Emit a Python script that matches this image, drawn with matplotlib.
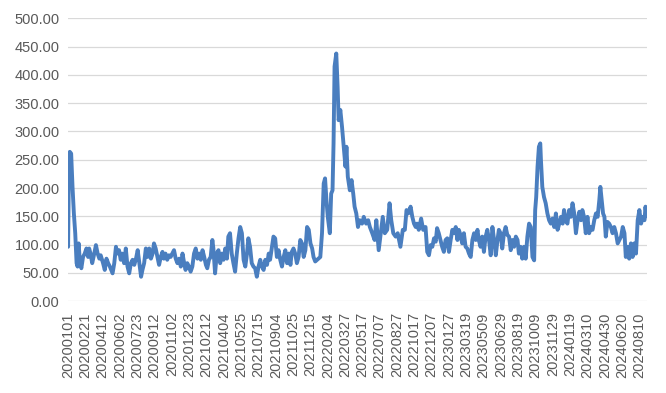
# Daily index line chart, 2020-01-01 .. 2024-08-31

import pandas as pd
import matplotlib
matplotlib.use("Agg")
import matplotlib.pyplot as plt

start_date = "2020-01-01"
end_date = "2024-08-31"
tick_step = 51

# days since start_date
day_offsets = [
    0, 2, 5, 9, 13, 17, 21, 25, 28, 31, 35, 39, 44, 49, 54, 59, 62, 66, 71, 76,
    82, 87, 92, 96, 103, 108, 113, 118, 123, 131, 136, 141, 145, 150, 155, 159,
    165, 170, 175, 180, 185, 190, 195, 200, 205, 210, 215, 219, 224, 229, 234,
    239, 244, 249, 253, 258, 263, 268, 273, 278, 282, 287, 292, 297, 302, 307,
    312, 317, 322, 327, 332, 337, 342, 346, 351, 356, 361, 366, 371, 376, 381,
    386, 391, 396, 401, 406, 410, 415, 420, 425, 428, 433, 438, 443, 448, 453,
    458, 463, 468, 472, 477, 482, 487, 492, 497, 502, 507, 512, 517, 522, 527,
    531, 536, 541, 546, 551, 556, 561, 566, 571, 576, 581, 586, 591, 595, 600,
    605, 610, 615, 620, 625, 630, 635, 640, 645, 650, 655, 659, 664, 669, 674,
    679, 684, 689, 694, 699, 704, 709, 714, 719, 723, 728,
    743, 748, 753, 757, 761, 765, 771, 775, 779, 782, 785, 790, 794, 797, 802,
    807, 812, 817, 820, 824, 830, 835, 840, 844, 849, 854, 859, 866, 871, 878,
    884, 889, 896, 903, 908, 915, 920, 927, 933, 940, 947, 952, 958, 965, 971,
    979, 986, 992, 997, 1002, 1009, 1014, 1019, 1024, 1028, 1033, 1040, 1046,
    1053, 1058, 1063, 1068, 1073, 1078, 1083, 1087, 1092, 1097, 1102, 1107,
    1112, 1117, 1122, 1127, 1132, 1137, 1142, 1147, 1151, 1156, 1161, 1166,
    1171, 1176, 1181, 1186, 1191, 1196, 1201, 1206, 1210, 1215, 1220, 1225,
    1230, 1235, 1240, 1245, 1250, 1255, 1260, 1265, 1269, 1274, 1279, 1284,
    1289, 1294, 1299, 1304, 1309, 1314, 1319, 1324, 1328, 1333, 1338, 1343,
    1348, 1353, 1358, 1363, 1368, 1373, 1376, 1379, 1383, 1387, 1391, 1393,
    1397, 1402, 1407, 1412, 1417, 1422, 1427, 1432, 1437, 1442, 1447, 1452,
    1457, 1461, 1466, 1471, 1476, 1481, 1486, 1491, 1496, 1501, 1506, 1511,
    1515, 1520, 1525, 1530, 1535, 1540, 1545, 1550, 1555, 1560, 1565, 1568,
    1572, 1576, 1580, 1584, 1589, 1594, 1599, 1604, 1609, 1614, 1619, 1624,
    1629, 1634, 1639, 1643, 1648, 1653, 1658, 1663, 1668, 1673, 1678, 1683,
    1688, 1693, 1698, 1701, 1704,
]

values = [
    96, 211, 264, 261, 202, 155, 120, 67, 61, 102, 67, 58, 78, 84, 93, 78, 93,
    84, 67, 81, 99, 84, 75, 81, 67, 55, 75, 67, 61, 49, 67, 96, 84, 90, 73, 84,
    67, 93, 61, 49, 67, 73, 64, 75, 90, 67, 43, 55, 67, 93, 78, 93, 75, 84,
    102, 93, 78, 64, 78, 87, 75, 84, 73, 81, 78, 84, 90, 75, 67, 75, 61, 84,
    67, 55, 67, 61, 52, 61, 84, 93, 75, 84, 73, 90, 78, 64, 58, 73, 78, 108,
    93, 49, 84, 90, 67, 84, 73, 93, 75, 114, 120, 84, 67, 52, 84, 111, 131,
    120, 73, 61, 84, 111, 96, 67, 61, 58, 43, 61, 73, 61, 55, 73, 64, 84, 73,
    93, 114, 111, 78, 90, 73, 61, 78, 90, 67, 84, 64, 87, 93, 84, 67, 78, 108,
    102, 78, 90, 131, 126, 102, 93, 78, 70,
    78, 120, 208, 217, 179, 149, 120, 190, 196, 279, 415, 438, 379, 320, 338,
    308, 273, 238, 273, 220, 196, 214, 190, 167, 155, 131, 143, 137, 149, 137,
    143, 131, 120, 108, 143, 90, 114, 149, 120, 126, 173, 143, 120, 114, 120,
    96, 126, 126, 161, 155, 167, 149, 137, 131, 137, 126, 146, 126, 131, 87,
    81, 99, 96, 111, 105, 129, 120, 108, 96, 87, 108, 111, 87, 108, 126, 120,
    131, 108, 126, 117, 102, 120, 96, 93, 84, 78, 108, 120, 108, 126, 108, 96,
    114, 87, 114, 126, 108, 81, 131, 108, 81, 108, 126, 120, 93, 120, 131,
    117, 114, 90, 108, 96, 114, 108, 84, 96, 75, 96, 75, 114, 137, 131, 78,
    72, 161, 184, 238, 273, 279, 249, 202, 184, 173, 155, 143, 137, 146, 131,
    155, 126, 137, 149, 137, 161, 143, 137, 161, 149, 173, 155, 120, 143, 158,
    143, 161, 149, 120, 149, 120, 131, 126, 143, 155, 149, 179, 202, 179, 155,
    149, 114, 140, 137, 131, 120, 131, 120, 102, 108, 114, 131, 120, 78, 96,
    75, 102, 78, 102, 84, 143, 161, 137, 149, 143, 167, 150,
]

all_days = pd.date_range(start_date, end_date, freq="D")
n_days = len(all_days)
tick_pos = list(range(0, n_days, tick_step))
tick_labels = [d.strftime("%Y%m%d") for d in all_days[::tick_step]]
y_ticks = list(range(0, 501, 50))

plt.rcParams["font.family"] = ["Liberation Sans", "DejaVu Sans"]
text_color = "#595959"

fig = plt.figure(figsize=(6.66, 3.93), dpi=100)
ax = fig.add_axes([0.102, 0.234, 0.869, 0.719])

ax.plot(day_offsets, values, color="#4A7EBF", linewidth=2.8,
        solid_joinstyle="round", solid_capstyle="round", zorder=3)

ax.set_xlim(-0.5, n_days - 0.5)
ax.set_ylim(0, 500)
ax.set_yticks(y_ticks)
ax.set_yticklabels([f"{v:.2f}" for v in y_ticks])
ax.set_xticks(tick_pos)
ax.set_xticklabels(tick_labels, rotation=90)

ax.grid(axis="y", color="#D9D9D9", linewidth=0.9)
ax.set_axisbelow(True)
for side in ["top", "right", "left", "bottom"]:
    ax.spines[side].set_visible(False)
ax.tick_params(axis="both", length=0, labelsize=10.5, colors=text_color)
ax.tick_params(axis="y", pad=6)
ax.tick_params(axis="x", pad=8)

fig.savefig("out.png", dpi=100)
plt.close(fig)
